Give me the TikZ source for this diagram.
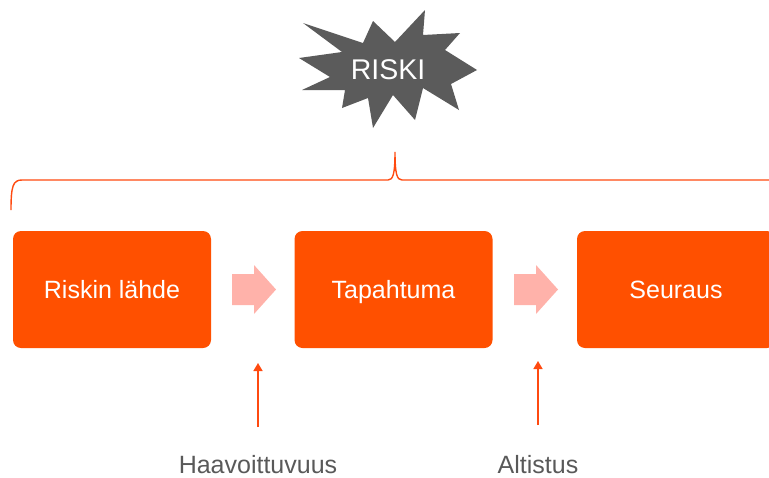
\documentclass[tikz,border=0pt]{standalone}
\usepackage{fontspec}
\setmainfont{Liberation Sans}
\usetikzlibrary{arrows.meta, positioning}

\definecolor{boxorange}{HTML}{FF5000}
\definecolor{arrowpink}{HTML}{FFB2AA}
\definecolor{stargray}{HTML}{5B5B5B}
\definecolor{linered}{HTML}{FF4A10}
\definecolor{labelgray}{HTML}{595959}

\tikzset{
  stepbox/.style={fill=boxorange, rounded corners=8pt, minimum width=198pt,
    minimum height=117pt, inner sep=0pt, text=white, text height=18pt, text depth=0pt,
    font=\fontsize{25}{29}\selectfont},
  pinkarrow/.style={fill=arrowpink},
  uparrow/.style={draw=linered, line width=1.5pt, -{Triangle[width=9pt,length=8pt]}},
  factor/.style={text=labelgray, inner sep=1pt, text height=18pt, text depth=0pt,
    font=\fontsize{25}{29}\selectfont}
}

\begin{document}
\begin{tikzpicture}[x=1pt, y=-1pt]
        \clip (0,0) rectangle (769,477);
        % The star
        \fill[stargray] (425,10) -- (423,35) -- (460,33) -- (445,50) -- (477,70)
            -- (451,84) -- (459,110) -- (423,88) -- (415,120) -- (393,95)
            -- (373,128) -- (368,98) -- (342,108) -- (345,90) -- (302,90)
            -- (330,77) -- (299,58) -- (342,52) -- (303,23) -- (363,43)
            -- (373,21) -- (395,42) -- cycle;
        \node[text=white, font=\fontsize{28.5}{32}\selectfont] (riski) at (388,70) {RISKI};
        % Bracket
        \draw[linered, line width=1.4pt] (11,210) .. controls (11,186) and (13,180) .. (22,180)
            -- (388,180) .. controls (393,180) and (395,174) .. (395,152)
            .. controls (395,174) and (397,180) .. (402,180) -- (775,180);
        % Boxes
        \node[stepbox] (source) at (112,289.5) {Riskin lähde};
        \node[stepbox] (event) at (393.5,289.5) {Tapahtuma};
        \node[stepbox] (result) at (676,289.5) {Seuraus};
        % Block arrows between boxes
        \fill[pinkarrow] (232,274) -- (254,274) -- (254,265) -- (276,289.5) -- (254,314)
            -- (254,305) -- (232,305) -- cycle;
        \fill[pinkarrow] (514,274) -- (536,274) -- (536,265) -- (558,289.5) -- (536,314)
            -- (536,305) -- (514,305) -- cycle;
        % Factors below
        \node[factor] (vuln) at (258,464) {Haavoittuvuus};
        \node[factor] (expo) at (538,464) {Altistus};
        \coordinate (vulnfoot) at (258,427);
        \coordinate (vulntip) at (258,363);
        \coordinate (expofoot) at (538,425);
        \coordinate (expotip) at (538,361);
        \draw[uparrow] (vulnfoot) -- (vulntip);
        \draw[uparrow] (expofoot) -- (expotip);
    \end{tikzpicture}
\end{document}
